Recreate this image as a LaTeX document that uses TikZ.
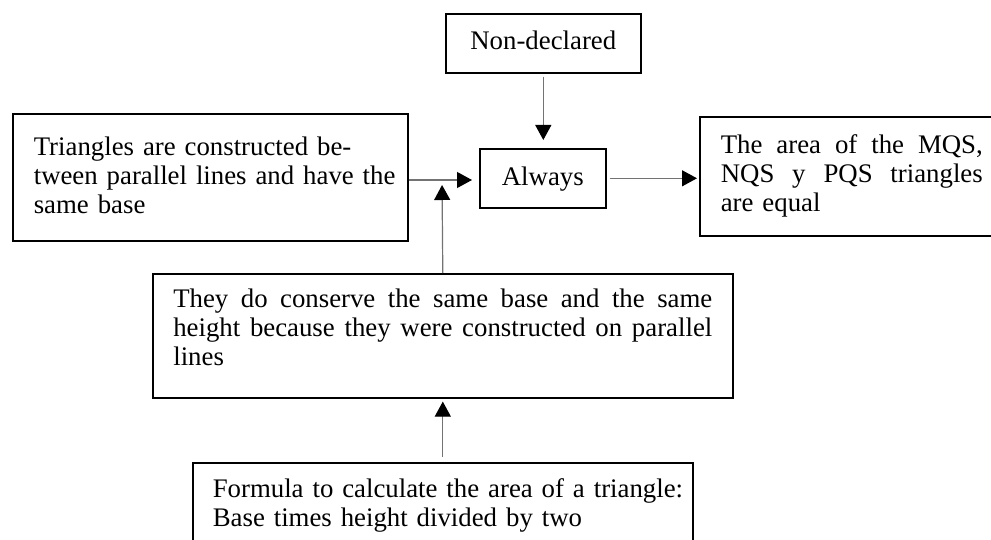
\documentclass[tikz,border=0pt]{standalone}
\usepackage{fontspec}
\setmainfont{Liberation Serif}
\usetikzlibrary{arrows.meta}
\newcommand\jline[2]{\leavevmode\hbox to #1{\spaceskip=0.25em plus 1fil\relax #2}}
\tikzset{
  boxnode/.style={draw=black, line width=0.8pt, rectangle, anchor=north west,
    inner ysep=0pt, align=left,
    font=\fontsize{13.4pt}{14.5pt}\selectfont},
  arr/.style={draw=black!55, line width=0.6pt,
    -{Triangle[length=7.5pt,width=8pt,color=black,fill=black]}}
}
\begin{document}
\begin{tikzpicture}[x=0.5pt,y=-0.5pt]
\useasboundingbox (0,0) rectangle (991,540);
% boxes
\node[boxnode, align=center, inner xsep=0pt, text width=97.5pt,
  text height=18pt, text depth=11.5pt] (nd) at (445,13) {Non-declared};
\node[boxnode, align=center, inner xsep=0pt, text width=63pt,
  text height=18.5pt, text depth=11pt] (al) at (479,148) {Always};
\node[boxnode, inner xsep=10.5pt, text width=176.5pt,
  text height=21pt, text depth=42.5pt] (l) at (12,113)
  {\mbox{Triangles are constructed be-}\\
   \mbox{tween parallel lines and have the}\\
   \mbox{same base}};
\node[boxnode, inner xsep=10.5pt, text width=131pt,
  text height=18.5pt, text depth=41pt] (r) at (699,116)
  {\jline{131pt}{The area of the MQS,}\\
   \jline{131pt}{NQS y PQS triangles}\\
   \mbox{are equal}};
\node[boxnode, inner xsep=10.25pt, text width=269.5pt,
  text height=17pt, text depth=45pt] (m) at (152,273)
  {\jline{269.5pt}{They do conserve the same base and the same}\\
   \jline{269.5pt}{height because they were constructed on parallel}\\
   \mbox{lines}};
\node[boxnode, inner xsep=10pt, text width=230pt,
  text height=17.5pt, text depth=31.5pt] (b) at (192,462)
  {\mbox{Formula to calculate the area of a triangle:}\\
   \mbox{Base times height divided by two}};
% junction point on the horizontal arrow
\coordinate (j) at (442,180);
% connectors
\draw[arr, shorten <=1.5pt, shorten >=4pt] (nd.south) -- (nd.south |- al.north);
\draw[arr, shorten >=3.5pt] (l.east |- j) -- (al.west |- j);
\draw[arr, shorten <=1.5pt, shorten >=1pt] (al.east) -- (al.east -| r.west);
\draw[arr, shorten >=2.5pt] (m.north) -- (j);
\draw[arr, shorten <=2.5pt, shorten >=1.5pt] (b.north) -- (m.south);
\end{tikzpicture}
\end{document}
